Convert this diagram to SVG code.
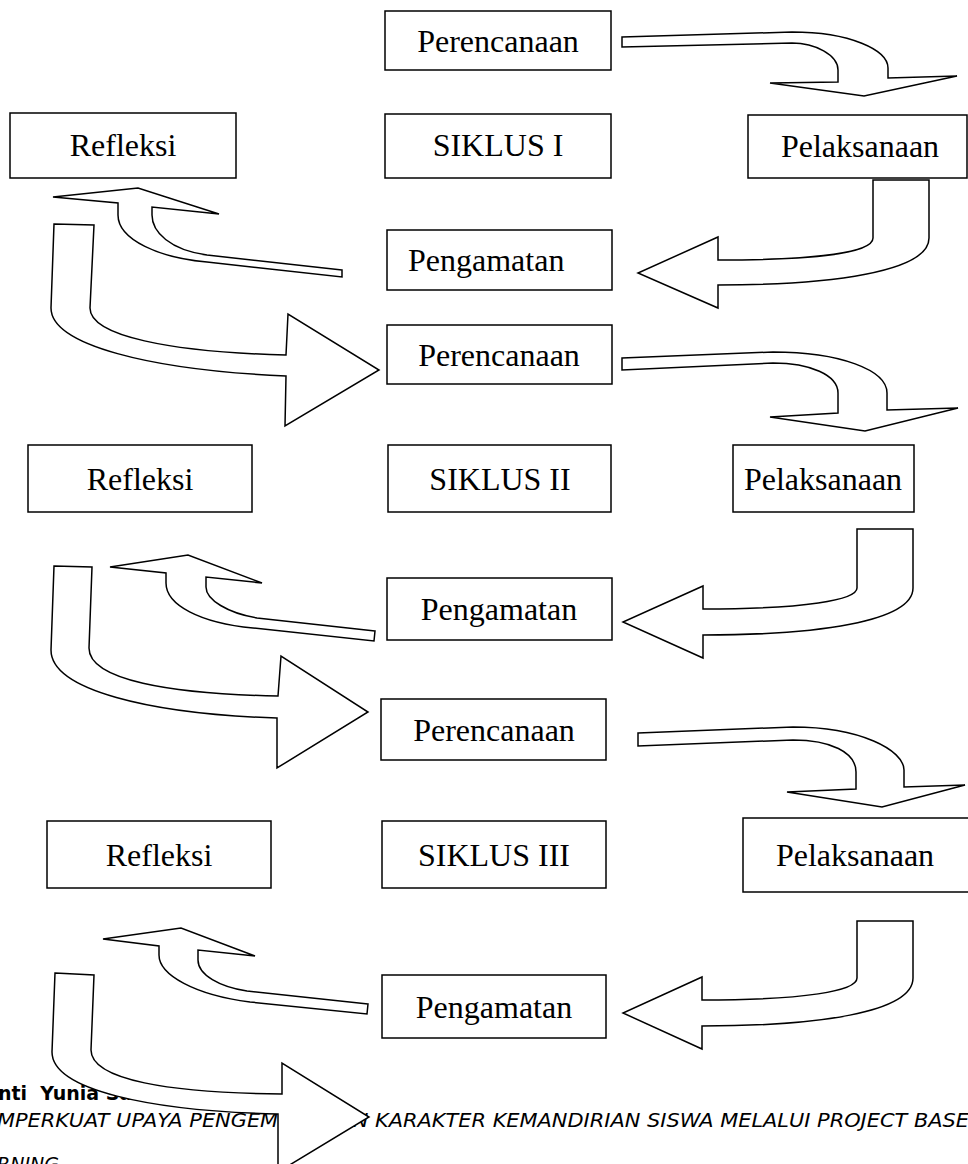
<svg xmlns="http://www.w3.org/2000/svg" width="968" height="1164" viewBox="0 0 968 1164">
<style>
.box rect{fill:#fff;stroke:#000;stroke-width:1.5}
.box text{font-family:"Liberation Serif","Times New Roman",serif;font-size:32px;fill:#000;text-anchor:middle}
.arr path{fill:#fff;stroke:#000;stroke-width:1.5;stroke-linejoin:miter}
.ft{font-family:"DejaVu Sans","Liberation Sans",sans-serif;font-size:19px;fill:#000}
</style>
<rect width="968" height="1164" fill="#fff"/>
<g id="footer">
<text class="ft" x="-2" y="1100" font-weight="bold">nti&#160; Yunia Sari,</text>
<text class="ft" x="-3" y="1127" font-style="italic" textLength="972" lengthAdjust="spacingAndGlyphs">MPERKUAT UPAYA PENGEMBANGAN KARAKTER KEMANDIRIAN SISWA MELALUI PROJECT BASE</text>
<text class="ft" x="-3" y="1171" font-style="italic">RNING</text>
</g>
<g id="per1" class="box"><rect x="385" y="11" width="226" height="59"/><text x="498" y="52">Perencanaan</text></g>
<g id="ref1" class="box"><rect x="10" y="113" width="226" height="65"/><text x="123" y="156">Refleksi</text></g>
<g id="sik1" class="box"><rect x="385" y="114" width="226" height="64"/><text x="498" y="156">SIKLUS I</text></g>
<g id="pel1" class="box"><rect x="748" y="115" width="219" height="63"/><text x="860" y="157">Pelaksanaan</text></g>
<g id="pen1" class="box"><rect x="387" y="230" width="225" height="60"/><text x="408" y="271" style="text-anchor:start">Pengamatan</text></g>
<g id="per2" class="box"><rect x="387" y="325" width="225" height="59"/><text x="499" y="366">Perencanaan</text></g>
<g id="ref2" class="box"><rect x="28" y="445" width="224" height="67"/><text x="140" y="490">Refleksi</text></g>
<g id="sik2" class="box"><rect x="388" y="445" width="223" height="67"/><text x="500" y="490">SIKLUS II</text></g>
<g id="pel2" class="box"><rect x="733" y="445" width="181" height="67"/><text x="823" y="490">Pelaksanaan</text></g>
<g id="pen2" class="box"><rect x="387" y="578" width="225" height="62"/><text x="499" y="620">Pengamatan</text></g>
<g id="per3" class="box"><rect x="381" y="699" width="225" height="61"/><text x="494" y="741">Perencanaan</text></g>
<g id="ref3" class="box"><rect x="47" y="821" width="224" height="67"/><text x="159" y="866">Refleksi</text></g>
<g id="sik3" class="box"><rect x="382" y="821" width="224" height="67"/><text x="494" y="866">SIKLUS III</text></g>
<g id="pel3" class="box"><rect x="743" y="818" width="235" height="74"/><text x="855" y="866">Pelaksanaan</text></g>
<g id="pen3" class="box"><rect x="382" y="975" width="224" height="63"/><text x="494" y="1018">Pengamatan</text></g>
<g id="connectors" class="arr">
<path d="M622,37 L792,32 C850,32 888,50 888,68 L888,78 L957,76 L864,96 L770,83 L838,82 L838,70 C838,55 815,43 792,43 L622,47 Z"/>
<path d="M873,180 L929,180 L929,238 C929,272 830,285 718,285 L718,308 L638,273 L718,237 L718,260 C820,260 873,252 873,238 Z"/>
<path d="M342,270 L207,255 C170,250 152,232 152,215 L152,207 L219,214 L138,188 L53,197 L118,203 L118,215 C118,240 160,258 207,262 L342,277 Z"/>
<path d="M54,224 L94,225 L90,308 C90,336 170,352 286,355 L288,314 L379,370 L285,426 L286,376 C150,370 51,345 51,308 Z"/>
<path d="M622,358 L773,352 C840,352 887,370 887,393 L887,410 L958,408 L865,431 L770,417 L838,413 L838,393 C838,375 810,363 773,363 L622,370 Z"/>
<path d="M857,529 L913,529 L913,588 C913,622 815,635 703,635 L703,658 L623,622 L703,586 L703,609 C805,609 857,600 857,588 Z"/>
<path d="M375,631 L257,618 C228,613 206,600 206,587 L206,577 L262,583 L188,555 L110,567 L166,573 L166,583 C166,605 200,623 253,628 L374,641 Z"/>
<path d="M54,566 L92,567 L89,648 C89,680 170,694 278,696 L281,656 L368,712 L277,768 L277,718 C150,714 51,690 51,650 Z"/>
<path d="M638,733 L793,727 C860,727 904,750 904,770 L904,787 L965,785 L882,807 L787,792 L856,789 L856,772 C856,752 830,740 793,740 L638,746 Z"/>
<path d="M857,921 L913,921 L913,978 C913,1013 815,1026 702,1026 L702,1049 L623,1013 L702,977 L702,1000 C805,1000 857,991 857,978 Z"/>
<path d="M368,1004 L247,991 C220,987 198,975 198,960 L198,950 L255,956 L181,928 L103,939 L159,946 L159,955 C159,975 195,995 250,1002 L367,1014 Z"/>
<path d="M55,973 L94,975 L91,1050 C91,1080 170,1093 282,1094 L282,1063 L369,1117 L278,1172 L278,1114 C150,1111 52,1090 52,1052 Z"/>
</g>
</svg>
